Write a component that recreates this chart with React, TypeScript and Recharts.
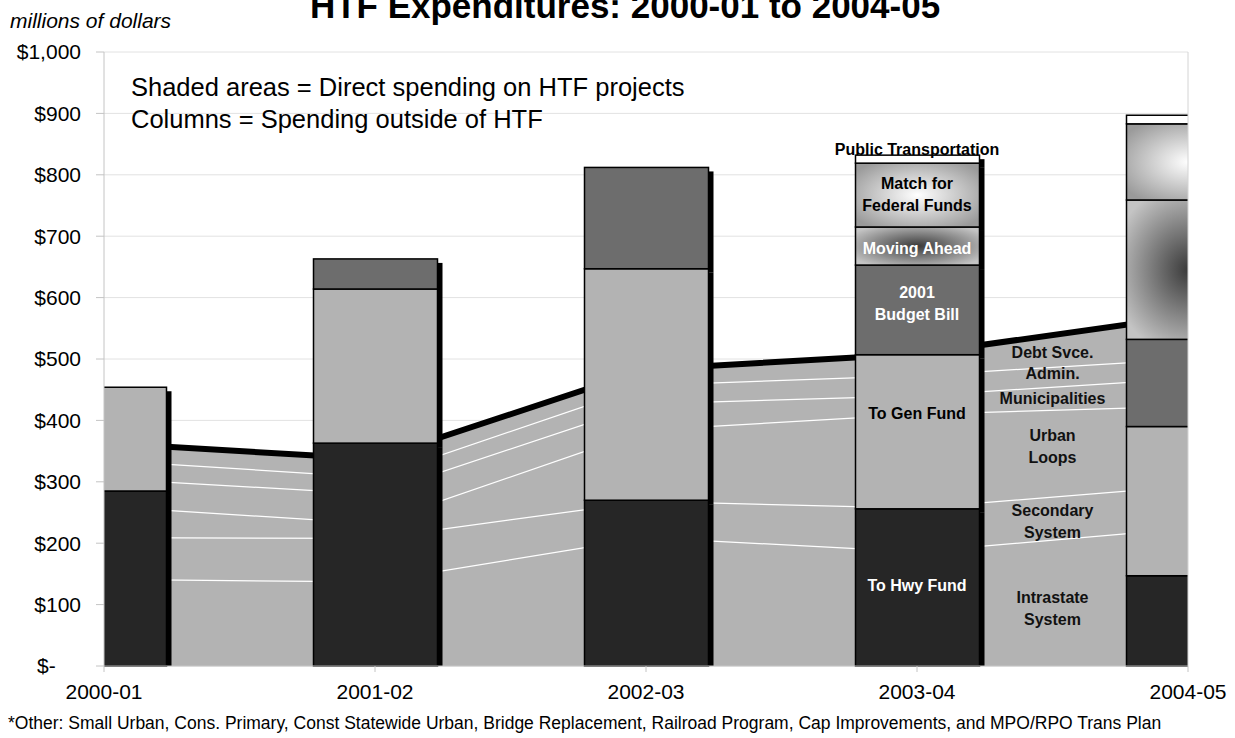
import React from "react";
import {
  ComposedChart,
  Area,
  Bar,
  XAxis,
  YAxis,
  CartesianGrid,
  ReferenceLine,
  ReferenceDot,
} from "recharts";

const FONT = '"Liberation Sans", Arial, Helvetica, sans-serif';

// fiscal years on the x axis
const years = ["2000-01", "2001-02", "2002-03", "2003-04", "2004-05"];
const yTicks = [0, 100, 200, 300, 400, 500, 600, 700, 800, 900, 1000];

// shaded areas: direct HTF spending, millions of dollars (stacked)
const intrastate = [142, 138, 210, 187, 225];
const secondary = [68, 71, 59, 71, 69];
const urbanLoops = [51, 24, 116, 153, 130];
const municipalities = [45, 48, 43, 30, 45];
const admin = [30, 27, 30, 33, 32];
const debtService = [27, 29, 25, 34, 69];

// columns: spending outside of HTF (stacked)
const toHwyFund = [285, 363, 270, 256, 147];
const toGenFund = [169, 251, 377, 251, 243];
const budgetBill2001 = [0, 49, 165, 146, 142];
const movingAhead = [0, 0, 0, 62, 227];
const federalMatch = [0, 0, 0, 104, 124];
const publicTransportation = [0, 0, 0, 13, 14];

const chartData = years.map((year, i) => ({
  x: i,
  year,
  intrastate: intrastate[i],
  secondary: secondary[i],
  urbanLoops: urbanLoops[i],
  municipalities: municipalities[i],
  admin: admin[i],
  debtService: debtService[i],
  toHwyFund: toHwyFund[i],
  toGenFund: toGenFund[i],
  budgetBill2001: budgetBill2001[i],
  movingAhead: movingAhead[i],
  federalMatch: federalMatch[i],
  publicTransportation: publicTransportation[i],
}));

const areaNotes = [
  { y: 510, lines: ["Debt Svce."] },
  { y: 477, lines: ["Admin."] },
  { y: 436, lines: ["Municipalities"] },
  { y: 358, lines: ["Urban", "Loops"] },
  { y: 236, lines: ["Secondary", "System"] },
  { y: 94, lines: ["Intrastate", "System"] },
];

const barNotes = [
  { y: 841, lines: ["Public Transportation"], color: "#000" },
  { y: 768, lines: ["Match for", "Federal Funds"], color: "#000" },
  { y: 680, lines: ["Moving Ahead"], color: "#fff" },
  { y: 591, lines: ["2001", "Budget Bill"], color: "#fff" },
  { y: 412, lines: ["To Gen Fund"], color: "#000" },
  { y: 132, lines: ["To Hwy Fund"], color: "#fff" },
];

// column segment with a black drop shadow on its right side
function shadowBar(fill: string, bottom = false) {
  return (props: any) => {
    const { x, y, width, height } = props;
    if (!height || height <= 0) return null;
    return (
      <g>
        <rect
          x={x + width}
          y={y + 4}
          width={5}
          height={bottom ? height - 4 : height}
          fill="#000"
        />
        <rect
          x={x}
          y={y}
          width={width}
          height={height}
          fill={fill}
          stroke="#000"
          strokeWidth={1.5}
        />
      </g>
    );
  };
}

function noteShape(lines: string[], color: string) {
  return (p: any) => {
    const lh = 22;
    const top = p.cy - ((lines.length - 1) * lh) / 2;
    return (
      <text
        x={p.cx}
        y={top}
        textAnchor="middle"
        fill={color}
        fontFamily={FONT}
        fontWeight="bold"
        fontSize={16}
      >
        {lines.map((l, i) => (
          <tspan key={i} x={p.cx} y={top + i * lh} dy="0.35em">
            {l}
          </tspan>
        ))}
      </text>
    );
  };
}

function YTick(props: any) {
  const { x, y, payload } = props;
  if (payload.value === 0) {
    return (
      <text x={x - 44} y={y} dy="0.35em" fontFamily={FONT} fontSize={21} fill="#000">
        $-
      </text>
    );
  }
  return (
    <text x={x} y={y} dy="0.35em" textAnchor="end" fontFamily={FONT} fontSize={21} fill="#000">
      {"$" + payload.value.toLocaleString("en-US")}
    </text>
  );
}

export default function App() {
  return (
    <div style={{ position: "absolute", left: 0, top: 0, width: 1235, height: 738, background: "#fff" }}>
      <ComposedChart
        width={1235}
        height={738}
        data={chartData}
        margin={{ top: 52, right: 47, left: 0, bottom: 0 }}
      >
        <defs>
          <radialGradient id="gradMoving" cx="50%" cy="50%" r="62%">
            <stop offset="0%" stopColor="#3a3a3a" />
            <stop offset="100%" stopColor="#c4c4c4" />
          </radialGradient>
          <radialGradient id="gradMatch" cx="50%" cy="50%" r="62%">
            <stop offset="0%" stopColor="#ffffff" />
            <stop offset="100%" stopColor="#9a9a9a" />
          </radialGradient>
        </defs>
        <CartesianGrid vertical={false} stroke="#e2e2e2" />
        <XAxis
          type="number"
          dataKey="x"
          domain={[0, 4]}
          ticks={[0, 1, 2, 3, 4]}
          interval={0}
          allowDataOverflow
          height={72}
          tickFormatter={(v) => years[v]}
          tick={{ fontSize: 21, fill: "#000", fontFamily: FONT }}
          tickSize={6}
          tickMargin={12}
          stroke="#c4c4c4"
        />
        <YAxis
          type="number"
          domain={[0, 1000]}
          ticks={yTicks}
          interval={0}
          width={104}
          tick={<YTick />}
          tickSize={8}
          tickMargin={15}
          stroke="#c4c4c4"
        />
        <ReferenceLine x={4} stroke="#d4d4d4" />

        <Area type="linear" dataKey="intrastate" stackId="htf" fill="#b3b3b3" fillOpacity={1} stroke="#fff" strokeWidth={2.5} isAnimationActive={false} dot={false} activeDot={false} />
        <Area type="linear" dataKey="secondary" stackId="htf" fill="#b3b3b3" fillOpacity={1} stroke="#fff" strokeWidth={2.5} isAnimationActive={false} dot={false} activeDot={false} />
        <Area type="linear" dataKey="urbanLoops" stackId="htf" fill="#b3b3b3" fillOpacity={1} stroke="#fff" strokeWidth={2.5} isAnimationActive={false} dot={false} activeDot={false} />
        <Area type="linear" dataKey="municipalities" stackId="htf" fill="#b3b3b3" fillOpacity={1} stroke="#fff" strokeWidth={2.5} isAnimationActive={false} dot={false} activeDot={false} />
        <Area type="linear" dataKey="admin" stackId="htf" fill="#b3b3b3" fillOpacity={1} stroke="#fff" strokeWidth={2.5} isAnimationActive={false} dot={false} activeDot={false} />
        <Area type="linear" dataKey="debtService" stackId="htf" fill="#b3b3b3" fillOpacity={1} stroke="#000" strokeWidth={6} isAnimationActive={false} dot={false} activeDot={false} />

        <Bar dataKey="toHwyFund" stackId="cols" barSize={124} fill="#262626" shape={shadowBar("#262626", true)} isAnimationActive={false} />
        <Bar dataKey="toGenFund" stackId="cols" barSize={124} fill="#b3b3b3" shape={shadowBar("#b3b3b3")} isAnimationActive={false} />
        <Bar dataKey="budgetBill2001" stackId="cols" barSize={124} fill="#6d6d6d" shape={shadowBar("#6d6d6d")} isAnimationActive={false} />
        <Bar dataKey="movingAhead" stackId="cols" barSize={124} fill="url(#gradMoving)" shape={shadowBar("url(#gradMoving)")} isAnimationActive={false} />
        <Bar dataKey="federalMatch" stackId="cols" barSize={124} fill="url(#gradMatch)" shape={shadowBar("url(#gradMatch)")} isAnimationActive={false} />
        <Bar dataKey="publicTransportation" stackId="cols" barSize={124} fill="#ffffff" shape={shadowBar("#ffffff")} isAnimationActive={false} />

        {areaNotes.map((n) => (
          <ReferenceDot key={n.lines[0]} x={3.5} y={n.y} r={0} shape={noteShape(n.lines, "#111")} />
        ))}
        {barNotes.map((n) => (
          <ReferenceDot key={n.lines[0]} x={3} y={n.y} r={0} shape={noteShape(n.lines, n.color)} />
        ))}
      </ComposedChart>

      <svg
        width={1235}
        height={738}
        style={{ position: "absolute", left: 0, top: 0, pointerEvents: "none" }}
      >
        <text x={625} y={18} textAnchor="middle" fontFamily={FONT} fontWeight="bold" fontSize={35} fill="#000">
          HTF Expenditures: 2000-01 to 2004-05
        </text>
        <text x={10} y={28} fontFamily={FONT} fontStyle="italic" fontSize={21} fill="#000">
          millions of dollars
        </text>
        <text x={131} y={96} fontFamily={FONT} fontSize={25.5} fill="#000">
          Shaded areas = Direct spending on HTF projects
        </text>
        <text x={131} y={128} fontFamily={FONT} fontSize={25.5} fill="#000">
          Columns = Spending outside of HTF
        </text>
        <text x={8} y={729} fontFamily={FONT} fontSize={17.5} fill="#000">
          *Other: Small Urban, Cons. Primary, Const Statewide Urban, Bridge Replacement, Railroad Program,  Cap Improvements, and MPO/RPO Trans Plan
        </text>
      </svg>
    </div>
  );
}
